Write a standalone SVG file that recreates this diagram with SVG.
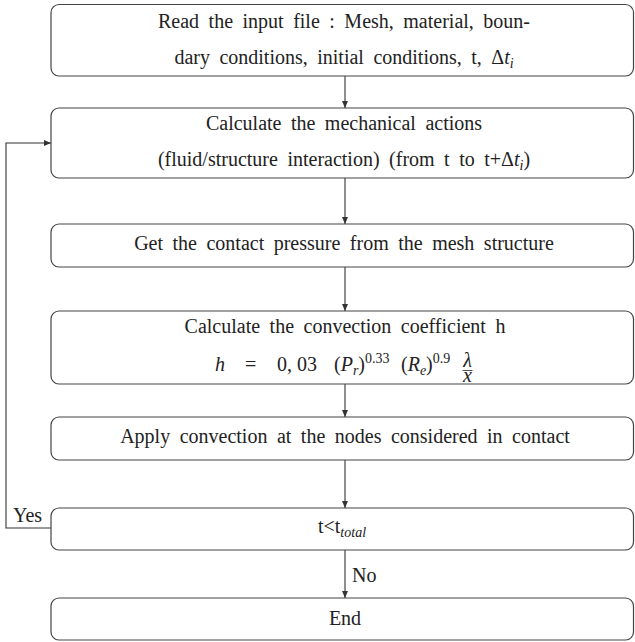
<svg xmlns="http://www.w3.org/2000/svg" width="635" height="642" viewBox="0 0 635 642">
<style>
.box{fill:#fff;stroke:#444;stroke-width:1.2}
.t{font-family:"Liberation Serif","Times New Roman",serif;font-size:20px;fill:#222;text-anchor:middle;word-spacing:4.5px}
.f{font-family:"Liberation Serif","Times New Roman",serif;font-size:20px;fill:#222}
.i{font-style:italic}
.c{fill:none;stroke:#333;stroke-width:1.1}
</style>
<defs>
<marker id="ah" markerUnits="userSpaceOnUse" markerWidth="8" markerHeight="8" refX="7" refY="3" orient="auto">
<path d="M0,0 L7,3 L0,6 z" fill="#333"/>
</marker>
</defs>
<g id="connectors">
<line class="c" x1="345" y1="76" x2="345" y2="108" marker-end="url(#ah)"/>
<line class="c" x1="345" y1="178" x2="345" y2="224" marker-end="url(#ah)"/>
<line class="c" x1="345" y1="267" x2="345" y2="311" marker-end="url(#ah)"/>
<line class="c" x1="345" y1="384" x2="345" y2="417" marker-end="url(#ah)"/>
<line class="c" x1="345" y1="460" x2="345" y2="508" marker-end="url(#ah)"/>
<line class="c" x1="345" y1="550" x2="345" y2="598" marker-end="url(#ah)"/>
<polyline class="c" points="51,528 6,528 6,143 51,143" marker-end="url(#ah)"/>
<text class="f" x="13" y="522">Yes</text>
<text class="f" x="352" y="582">No</text>
</g>
<g id="read">
<rect class="box" x="51" y="4.5" width="582.5" height="71.5" rx="8"/>
<text class="t" x="344" y="28">Read the input file : Mesh, material, boun-</text>
<text class="t" x="344" y="64">dary conditions, initial conditions, t, Δ<tspan class="i">t</tspan><tspan class="i" font-size="14" dy="4">i</tspan></text>
</g>
<g id="mech">
<rect class="box" x="51" y="108" width="582.5" height="70" rx="8"/>
<text class="t" x="344" y="130">Calculate the mechanical actions</text>
<text class="t" x="344" y="166">(fluid/structure interaction) (from t to t+Δ<tspan class="i">t</tspan><tspan class="i" font-size="14" dy="4">i</tspan><tspan dy="-4">)</tspan></text>
</g>
<g id="contact">
<rect class="box" x="51" y="224" width="582.5" height="43" rx="8"/>
<text class="t" x="344" y="250">Get the contact pressure from the mesh structure</text>
</g>
<g id="coef">
<rect class="box" x="51" y="311" width="582.5" height="73" rx="8"/>
<text class="t" x="345" y="333">Calculate the convection coefficient h</text>
<text class="f i" x="215" y="371">h</text>
<text class="f" x="245" y="371">=</text>
<text class="f" x="277" y="371">0, 03</text>
<text class="f" x="334" y="371">(<tspan class="i">P</tspan><tspan class="i" font-size="14" dy="4">r</tspan><tspan dy="-4">)</tspan><tspan font-size="14" dy="-8">0.33</tspan></text>
<text class="f" x="401" y="371">(<tspan class="i">R</tspan><tspan class="i" font-size="14" dy="4">e</tspan><tspan dy="-4">)</tspan><tspan font-size="14" dy="-8">0.9</tspan></text>
<text class="f i" font-size="12" text-anchor="middle"><tspan x="467.5" y="366.5">λ</tspan><tspan x="467.5" y="382">x</tspan></text>
<line x1="462.5" y1="370.5" x2="472.5" y2="370.5" stroke="#222" stroke-width="0.8"/>
</g>
<g id="apply">
<rect class="box" x="51" y="417" width="582.5" height="43" rx="8"/>
<text class="t" x="345" y="443">Apply convection at the nodes considered in contact</text>
</g>
<g id="test">
<rect class="box" x="51" y="508" width="582.5" height="42" rx="8"/>
<text class="t" x="342" y="533">t&lt;t<tspan class="i" font-size="14" dy="4">total</tspan></text>
</g>
<g id="end">
<rect class="box" x="51" y="598" width="582.5" height="42" rx="8"/>
<text class="t" x="345" y="625">End</text>
</g>
</svg>
